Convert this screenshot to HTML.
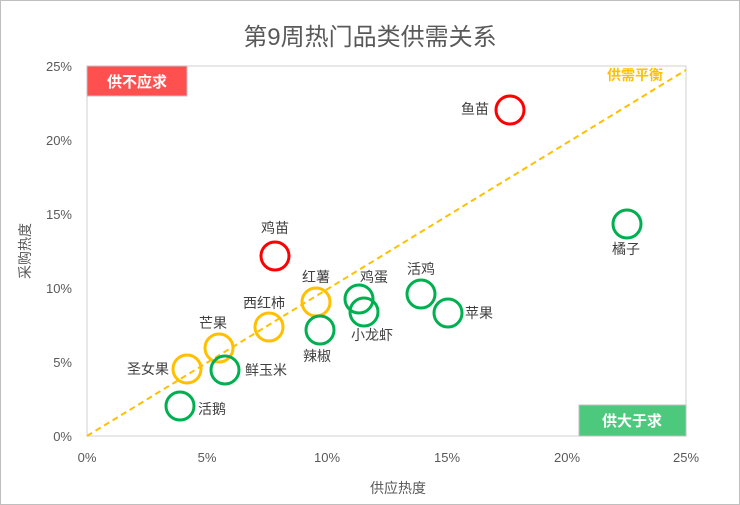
<!DOCTYPE html>
<html><head><meta charset="utf-8"><style>
body{margin:0;background:#fff}
svg{display:block}
text{font-family:"Liberation Sans","Noto Sans CJK SC",sans-serif}
</style></head><body>
<svg width="740" height="505" viewBox="0 0 740 505" xmlns="http://www.w3.org/2000/svg">
<rect x="0.5" y="0.5" width="739" height="504" fill="#fff" stroke="#bfbfbf"/>
<text x="370" y="45" text-anchor="middle" font-size="24" fill="#595959">第9周热门品类供需关系</text>
<rect x="87" y="66" width="599" height="370" fill="none" stroke="#d0d0d0"/>
<g font-size="13" fill="#595959" text-anchor="end">
<text x="72" y="71">25%</text><text x="72" y="145">20%</text><text x="72" y="219">15%</text>
<text x="72" y="293">10%</text><text x="72" y="367">5%</text><text x="72" y="441">0%</text>
</g>
<g font-size="13" fill="#595959" text-anchor="middle">
<text x="87" y="462">0%</text><text x="207" y="462">5%</text><text x="327" y="462">10%</text>
<text x="447" y="462">15%</text><text x="567" y="462">20%</text><text x="686" y="462">25%</text>
</g>
<text x="398" y="493" text-anchor="middle" font-size="14" fill="#595959">供应热度</text>
<text transform="translate(30,251) rotate(-90)" text-anchor="middle" font-size="14" fill="#595959">采购热度</text>
<line x1="87" y1="436" x2="686" y2="70" stroke="#ffc000" stroke-width="2" stroke-dasharray="6,4"/>
<text x="663" y="80" text-anchor="end" font-size="14" font-weight="bold" fill="#ffc000">供需平衡</text>
<rect x="87" y="66" width="100" height="30" fill="#ff5050" stroke="#c0c0c0"/>
<text x="137" y="87" text-anchor="middle" font-size="15" font-weight="bold" fill="#fff">供不应求</text>
<rect x="579" y="405" width="107" height="31" fill="#4cc97d" stroke="#c0c0c0"/>
<text x="632" y="426" text-anchor="middle" font-size="15" font-weight="bold" fill="#fff">供大于求</text>
<g fill="none" stroke-width="3">
<circle cx="510" cy="110" r="14" stroke="#ff0000"/>
<circle cx="275" cy="256" r="14" stroke="#ff0000"/>
<circle cx="627" cy="224" r="14" stroke="#00b050"/>
<circle cx="316" cy="302" r="14" stroke="#ffc000"/>
<circle cx="269" cy="327" r="14" stroke="#ffc000"/>
<circle cx="219" cy="348" r="14" stroke="#ffc000"/>
<circle cx="187" cy="369" r="14" stroke="#ffc000"/>
<circle cx="225" cy="370" r="14" stroke="#00b050"/>
<circle cx="180" cy="406" r="14" stroke="#00b050"/>
<circle cx="320" cy="330" r="14" stroke="#00b050"/>
<circle cx="359" cy="299" r="14" stroke="#00b050"/>
<circle cx="364" cy="312" r="14" stroke="#00b050"/>
<circle cx="421" cy="294" r="14" stroke="#00b050"/>
<circle cx="448" cy="313" r="14" stroke="#00b050"/>
</g>
<g font-size="14" fill="#404040">
<text x="461" y="114">鱼苗</text>
<text x="261" y="233">鸡苗</text>
<text x="612" y="254">橘子</text>
<text x="302" y="282">红薯</text>
<text x="243" y="308">西红柿</text>
<text x="199" y="328">芒果</text>
<text x="127" y="374">圣女果</text>
<text x="245" y="375">鲜玉米</text>
<text x="198" y="414">活鹅</text>
<text x="303" y="361">辣椒</text>
<text x="360" y="282">鸡蛋</text>
<text x="351" y="340">小龙虾</text>
<text x="407" y="274">活鸡</text>
<text x="465" y="318">苹果</text>
</g>
</svg>
</body></html>
